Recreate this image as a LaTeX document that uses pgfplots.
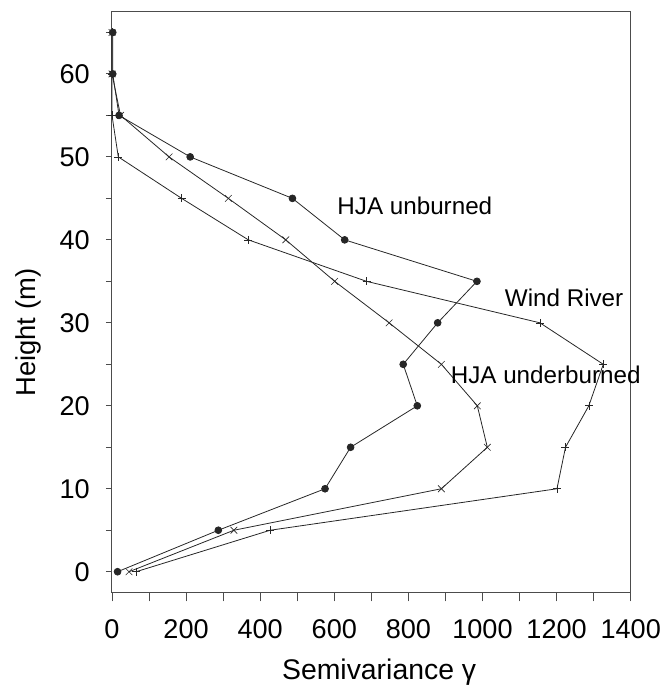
\documentclass[border=0pt]{standalone}
\usepackage{fontspec}
\setmainfont{Liberation Sans}
\usepackage{pgfplots}
\pgfplotsset{compat=1.18}
\begin{document}
\begin{tikzpicture}
\useasboundingbox (-112bp,-95.7bp) rectangle (550bp,592.3bp);
\begin{axis}[
  at={(0,0)}, anchor=south west,
  scale only axis,
  width=518.7bp, height=580.6bp,
  xmin=0, xmax=1400, ymin=-2.48, ymax=67.5,
  xtick={0,200,...,1400}, minor xtick={100,300,...,1300},
  ytick={0,10,...,60}, minor ytick={5,15,...,65},
  tick pos=left, tick align=outside,
  major tick length=6bp, minor tick length=6bp,
  xtick style={/pgfplots/major tick length=9bp, /pgfplots/minor tick length=9bp},
  every tick/.style={black!70, line width=0.9pt},
  axis line style={black!70, line width=1pt},
  tick label style={font=\fontsize{27.2}{30}\selectfont, inner sep=0pt},
  yticklabel style={anchor=east, xshift=-16bp},
  xticklabel style={anchor=north, yshift=-21bp},
  /pgf/number format/assume math mode=true,
  /pgf/number format/set thousands separator={},
  xlabel={Semivariance γ}, ylabel={Height (m)},
  every axis x label/.style={at={(axis description cs:0.515,0)}, anchor=base, yshift=-86.7bp, font=\fontsize{28.5}{32}\selectfont},
  every axis y label/.style={at={(axis description cs:0,0.447)}, xshift=-84bp, rotate=90, anchor=center, font=\fontsize{27.5}{30}\selectfont},
  clip=false,
]
% HJA unburned
\addplot[black!85, line width=0.8pt, mark=*, mark size=3.4bp] coordinates {
  (15,0) (287,5) (575,10) (644,15) (824,20) (786,25) (879,30) (985,35)
  (628,40) (487,45) (211,50) (19,55) (2,60) (2,65)};
% HJA underburned
\addplot[black!85, line width=0.8pt, mark=x, mark size=4.7bp, mark options={line width=0.6pt}] coordinates {
  (46,0) (329,5) (889,10) (1013,15) (986,20) (889,25) (748,30) (601,35)
  (469,40) (314,45) (154,50) (23,55) (0,60) (0,65)};
% Wind River
\addplot[black!85, line width=0.8pt, mark=+, mark size=4bp, mark options={line width=0.6pt}] coordinates {
  (65,0) (427,5) (1201,10) (1224,15) (1287,20) (1326,25) (1155,30) (687,35)
  (368,40) (188,45) (17,50) (0,55) (0,60) (0,65)};
\node[anchor=base west, font=\fontsize{24.3}{27}\selectfont, inner sep=0pt] at (axis cs:608,43.1) {HJA unburned};
\node[anchor=base west, font=\fontsize{24.3}{27}\selectfont, inner sep=0pt] at (axis cs:1060,31.95) {Wind River};
\node[anchor=base west, font=\fontsize{24.3}{27}\selectfont, inner sep=0pt] at (axis cs:914,22.7) {HJA underburned};
\end{axis}
\end{tikzpicture}
\end{document}
